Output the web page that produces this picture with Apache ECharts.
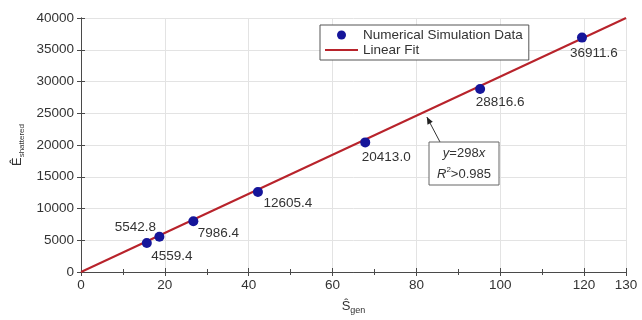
<!DOCTYPE html>
<html>
<head>
<meta charset="utf-8">
<script src="https://cdn.jsdelivr.net/npm/echarts@6/dist/echarts.min.js"></script>
<style>
  html, body { margin: 0; padding: 0; background: #fff; }
  #chart { width: 642px; height: 320px; }
</style>
</head>
<body>
<div id="chart"></div>
<script>
// simulation points
const simX = [15.7, 18.7, 26.8, 42.2, 67.8, 95.2, 119.5];
const simY = [4559.4, 5542.8, 7986.4, 12605.4, 20413.0, 28816.6, 36911.6];
// fitted line end points
const fitX = [0, 130];
const fitY = [0, 40000];

const xTicks = { min: 0, max: 130, interval: 20 };
const yTicks = { min: 0, max: 40000, interval: 5000 };

// label offsets for each point label (px, relative to the marker)
const labelOffsets = [[25, 13], [-24, -10], [25, 12], [30, 11], [21, 15], [20, 13], [12, 16]];

const font = 'Liberation Sans, Arial, sans-serif';
const axisColor = '#4a4a4a';
const textColor = '#333';
const fitColor = '#b8232b';
const dotColor = '#15159a';

const chart = echarts.init(document.getElementById('chart'));

const scatterData = simX.map((x, i) => ({
  value: [x, simY[i]],
  label: { offset: labelOffsets[i] }
}));

const hiddenAxis = {
  axisLabel: { show: false },
  axisLine: { show: true, lineStyle: { color: axisColor } },
  axisTick: { show: true, inside: true, length: 4, lineStyle: { color: axisColor } },
  splitLine: { show: false }
};

chart.setOption({
  backgroundColor: '#fff',
  animation: false,
  textStyle: { fontFamily: font },
  grid: { left: 81, right: 16, top: 18, bottom: 48 },
  legend: {
    left: 320,
    top: 25,
    orient: 'vertical',
    backgroundColor: '#fff',
    borderColor: '#555',
    borderWidth: 1,
    padding: [3, 6, 3, 5],
    itemWidth: 33,
    itemHeight: 9,
    itemGap: 1,
    textStyle: { fontSize: 13.5, color: textColor, fontFamily: font },
    data: [
      { name: 'Numerical Simulation Data', icon: 'circle', itemStyle: { color: dotColor, opacity: 1 } },
      { name: 'Linear Fit', icon: 'path://M0,0 L33,0 L33,2 L0,2 Z', itemStyle: { color: fitColor } }
    ]
  },
  xAxis: [{
    type: 'value',
    min: xTicks.min,
    max: xTicks.max,
    interval: xTicks.interval,
    name: '{hat|Ŝ}{sub|gen}',
    nameLocation: 'middle',
    nameGap: 26,
    nameTextStyle: {
      rich: {
        hat: { fontSize: 13, color: textColor, fontFamily: font },
        sub: { fontSize: 9, color: textColor, fontFamily: font, padding: [8, 0, 0, 0] }
      }
    },
    axisLine: { show: true, lineStyle: { color: axisColor } },
    axisTick: { show: true, inside: true, length: 4, lineStyle: { color: axisColor } },
    minorTick: { show: true, splitNumber: 2, length: 3, lineStyle: { color: axisColor } },
    axisLabel: { fontSize: 13.5, color: textColor, margin: 6 },
    splitLine: { show: true, lineStyle: { color: '#e3e3e3', width: 1 } }
  }, Object.assign({
    type: 'value', position: 'top',
    min: xTicks.min, max: xTicks.max, interval: xTicks.interval,
    minorTick: { show: true, splitNumber: 2, length: 3, lineStyle: { color: axisColor } }
  }, hiddenAxis)],
  yAxis: [{
    type: 'value',
    min: yTicks.min,
    max: yTicks.max,
    interval: yTicks.interval,
    name: '{hat|Ê}{sub|shattered}',
    nameLocation: 'middle',
    nameGap: 50,
    nameRotate: 90,
    nameTextStyle: {
      rich: {
        hat: { fontSize: 13, color: textColor, fontFamily: font },
        sub: { fontSize: 8, color: textColor, fontFamily: font, padding: [8, 0, 0, 0] }
      }
    },
    axisLine: { show: true, lineStyle: { color: axisColor } },
    axisTick: { show: true, inside: true, length: 4, lineStyle: { color: axisColor } },
    axisLabel: { fontSize: 13.5, color: textColor, margin: 7, formatter: v => String(v) },
    splitLine: { show: true, lineStyle: { color: '#e3e3e3', width: 1 } }
  }, Object.assign({
    type: 'value', position: 'right',
    min: yTicks.min, max: yTicks.max, interval: yTicks.interval
  }, hiddenAxis)],
  series: [{
    name: 'Linear Fit',
    type: 'line',
    data: fitX.map((x, i) => [x, fitY[i]]),
    symbol: 'none',
    itemStyle: { color: fitColor },
    lineStyle: { color: fitColor, width: 2 },
    z: 2
  }, {
    name: 'Numerical Simulation Data',
    type: 'scatter',
    data: scatterData,
    symbol: 'circle',
    symbolSize: 10,
    itemStyle: { color: dotColor, opacity: 1 },
    label: {
      show: true,
      position: 'inside',
      fontSize: 13.5,
      color: textColor,
      formatter: p => p.value[1].toFixed(1)
    },
    z: 3
  }]
});

// annotation box with arrow pointing at the fitted line
const tip = chart.convertToPixel({ xAxisIndex: 0, yAxisIndex: 0 }, [82.5, 24400]);
const boxLeft = 429, boxTop = 142;
chart.setOption({
  graphic: [{
    type: 'line',
    shape: { x1: boxLeft + 11, y1: boxTop, x2: tip[0], y2: tip[1] },
    style: { stroke: '#333', lineWidth: 1 },
    z: 10
  }, {
    type: 'polygon',
    x: tip[0], y: tip[1],
    rotation: -Math.atan2(boxTop - tip[1], boxLeft + 11 - tip[0]) + Math.PI,
    shape: { points: [[0, 0], [-7, -3], [-7, 3]] },
    style: { fill: '#222' },
    z: 10
  }, {
    type: 'rect',
    shape: { x: boxLeft, y: boxTop, width: 70, height: 43 },
    style: { fill: '#fff', stroke: '#666', lineWidth: 1 },
    z: 10
  }, {
    type: 'text',
    x: boxLeft + 35, y: boxTop + 21.5,
    style: {
      text: '{i|y}{n|=298}{i|x}\n{i|R}{sup|2}{n|>0.985}',
      align: 'center',
      verticalAlign: 'middle',
      lineHeight: 21,
      rich: {
        i: { fontSize: 13, fontStyle: 'italic', fill: '#333', fontFamily: font, lineHeight: 21 },
        n: { fontSize: 13, fill: '#333', fontFamily: font, lineHeight: 21 },
        sup: { fontSize: 8, fill: '#333', fontFamily: font, padding: [0, 0, 8, 0], lineHeight: 21 }
      }
    },
    z: 11
  }]
});
</script>
</body>
</html>
